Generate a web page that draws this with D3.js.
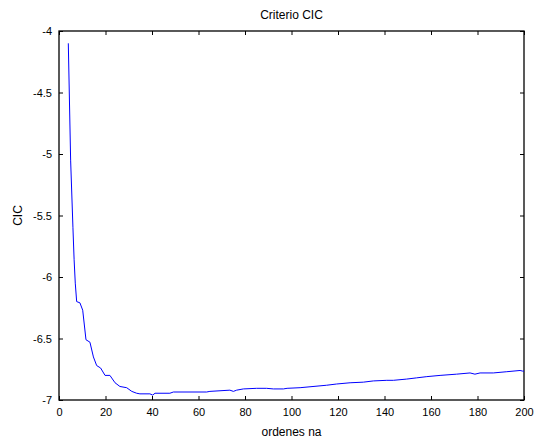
<!DOCTYPE html>
<html>
<head>
<meta charset="utf-8">
<script src="https://cdn.jsdelivr.net/npm/d3@7"></script>
<style>
  html, body { margin: 0; padding: 0; background: #fff; }
  text { font-family: "Liberation Sans", Arial, sans-serif; }
</style>
</head>
<body>
<svg id="chart" width="539" height="442"></svg>
<script>
// Data
const naOrders = [4, 5, 6, 6.5, 7, 7.6, 9, 10.2, 11.6, 13.3, 14.8, 16.2, 17.9, 19.8, 21.9, 24.1, 26.2, 29.1, 31.3, 33.4, 34.8, 39.1, 40.3, 41.3, 47.7, 49.2, 63.5, 64.9, 73.5, 75, 76.4, 79.3, 85, 89.3, 92.2, 96.5, 98.1, 103.7, 115.1, 119.4, 125.2, 130.9, 135.2, 141, 143.8, 149.5, 153.8, 158.2, 163.9, 171, 176.8, 178.9, 181.1, 186.8, 192.6, 198.3, 199.4, 200];
const cicValues = [-4.1, -5.05, -5.6, -5.86, -6.05, -6.2, -6.21, -6.27, -6.51, -6.53, -6.65, -6.72, -6.74, -6.80, -6.80, -6.86, -6.89, -6.90, -6.93, -6.945, -6.95, -6.95, -6.96, -6.945, -6.945, -6.935, -6.935, -6.93, -6.92, -6.93, -6.92, -6.91, -6.905, -6.905, -6.91, -6.91, -6.905, -6.90, -6.88, -6.87, -6.86, -6.855, -6.845, -6.84, -6.84, -6.83, -6.82, -6.81, -6.80, -6.79, -6.78, -6.79, -6.78, -6.78, -6.77, -6.76, -6.765, -6.765];
const xTicks = [0, 20, 40, 60, 80, 100, 120, 140, 160, 180, 200];
const yTicks = [-4, -4.5, -5, -5.5, -6, -6.5, -7];
const titleText = "Criterio CIC";
const xLabelText = "ordenes na";
const yLabelText = "CIC";

const svg = d3.select("#chart");
const m = { left: 59, right: 524, top: 31, bottom: 400 };

const x = d3.scaleLinear().domain([0, 200]).range([m.left, m.right]);
const y = d3.scaleLinear().domain([-7, -4]).range([m.bottom, m.top]);

const tickLen = 4;
const fontSize = 11;

// Axes: bottom with labels
const xAxisB = d3.axisBottom(x).tickValues(xTicks).tickSizeInner(-tickLen).tickSizeOuter(0).tickPadding(8).tickFormat(d3.format("d"));
const xAxisT = d3.axisTop(x).tickValues(xTicks).tickSizeInner(-tickLen).tickSizeOuter(0).tickFormat("");
const yAxisL = d3.axisLeft(y).tickValues(yTicks).tickSizeInner(-tickLen).tickSizeOuter(0).tickPadding(7).tickFormat(d => String(d));
const yAxisR = d3.axisRight(y).tickValues(yTicks).tickSizeInner(-tickLen).tickSizeOuter(0).tickFormat("");

function style(g) {
  g.selectAll(".domain").remove();
  g.selectAll("line").attr("stroke", "#000").attr("stroke-width", 1);
  g.selectAll("text").attr("fill", "#000").style("font-size", fontSize + "px").style("font-family", '"Liberation Sans", Arial, sans-serif');
}

svg.append("g").attr("transform", `translate(0,${m.bottom})`).call(xAxisB).call(style);
svg.append("g").attr("transform", `translate(0,${m.top})`).call(xAxisT).call(style);
svg.append("g").attr("transform", `translate(${m.left},0)`).call(yAxisL).call(style);
svg.append("g").attr("transform", `translate(${m.right},0)`).call(yAxisR).call(style);

// Box
svg.append("rect")
  .attr("x", m.left).attr("y", m.top)
  .attr("width", m.right - m.left).attr("height", m.bottom - m.top)
  .attr("fill", "none").attr("stroke", "#000").attr("stroke-width", 1.3);

// Line
const pts = naOrders.map((d, i) => [d, cicValues[i]]);
svg.append("path")
  .datum(pts)
  .attr("fill", "none")
  .attr("stroke", "#0000ff")
  .attr("stroke-width", 1)
  .attr("d", d3.line().x(d => x(d[0])).y(d => y(d[1])));

// Title and labels
svg.append("text").attr("x", (m.left + m.right) / 2).attr("y", 19)
  .attr("text-anchor", "middle").style("font-size", "12px").text(titleText);
svg.append("text").attr("x", (m.left + m.right) / 2).attr("y", 436)
  .attr("text-anchor", "middle").style("font-size", "12px").text(xLabelText);
svg.append("text").attr("transform", `translate(22,${(m.top + m.bottom) / 2}) rotate(-90)`)
  .attr("text-anchor", "middle").style("font-size", "12px").text(yLabelText);
</script>
</body>
</html>
